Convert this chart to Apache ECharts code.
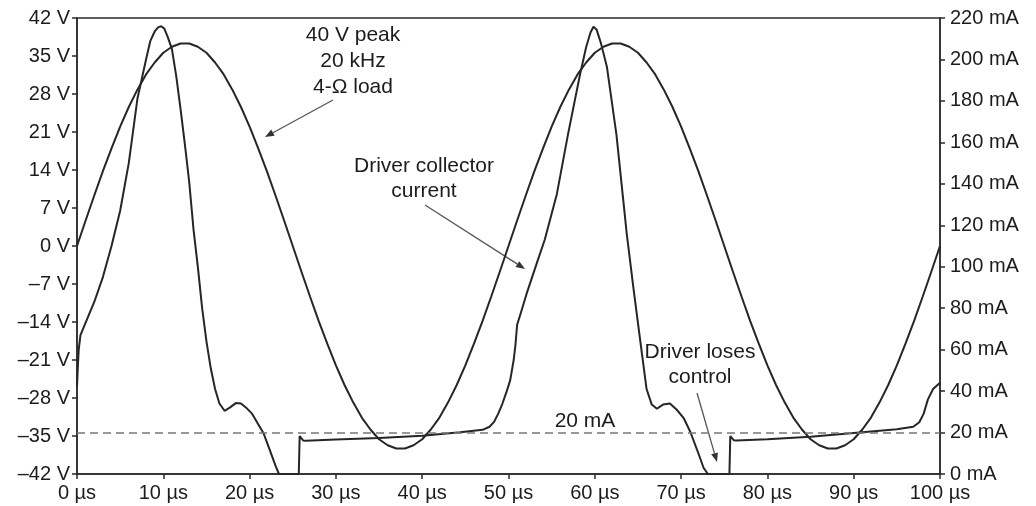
<!DOCTYPE html>
<html>
<head>
<meta charset="utf-8">
<script src="https://cdn.jsdelivr.net/npm/echarts@6/dist/echarts.min.js"></script>
<style>
  html, body { margin: 0; padding: 0; background: #fff; }
  #chart { width: 1036px; height: 506px; }
</style>
</head>
<body>
<div id="chart"></div>
<script>
// output voltage, one sample per microsecond (0..100 us)
const voltStepUs = 1;
const voltage = [
  0, 4.7, 9.3, 13.8, 18.0, 22.0, 25.6, 28.8, 31.6, 33.8,
  35.6, 36.7, 37.3, 37.3, 36.7, 35.6, 33.8, 31.6, 28.8, 25.6,
  22.0, 18.0, 13.8, 9.3, 4.7, 0, -4.7, -9.3, -13.8, -18.0,
  -22.0, -25.6, -28.8, -31.6, -33.8, -35.6, -36.7, -37.3, -37.3, -36.7,
  -35.6, -33.8, -31.6, -28.8, -25.6, -22.0, -18.0, -13.8, -9.3, -4.7,
  0, 4.7, 9.3, 13.8, 18.0, 22.0, 25.6, 28.8, 31.6, 33.8,
  35.6, 36.7, 37.3, 37.3, 36.7, 35.6, 33.8, 31.6, 28.8, 25.6,
  22.0, 18.0, 13.8, 9.3, 4.7, 0, -4.7, -9.3, -13.8, -18.0,
  -22.0, -25.6, -28.8, -31.6, -33.8, -35.6, -36.7, -37.3, -37.3, -36.7,
  -35.6, -33.8, -31.6, -28.8, -25.6, -22.0, -18.0, -13.8, -9.3, -4.7,
  0
];

// driver collector current (mA) against time (us)
const currentTime = [
  0, 0.1, 0.2, 0.4, 0.7, 1, 2, 3, 4, 5,
  6, 7, 8, 8.5, 9, 9.4, 9.75, 10.1, 10.5, 11,
  11.5, 12, 12.5, 13, 13.5, 14, 14.5, 15, 15.5, 16,
  16.5, 17.1, 17.7, 18.4, 19, 19.6, 20.3, 21, 21.6, 22.3,
  23, 23.4, 25.7, 25.8, 26.2, 26.5, 30, 35, 40, 44.4,
  47, 47.8, 48.3, 48.8, 49.3, 49.8, 50.2, 50.6, 50.8, 51.0,
  51.3, 52.1, 53.3, 54.2, 55.6, 56.9, 58.3, 59, 59.5, 59.85,
  60.2, 60.7, 61.4, 62.5, 63.3, 63.7, 64.5, 65.4, 66.0, 66.6,
  67.2, 67.9, 68.7, 69.5, 70.3, 71.1, 72.0, 72.6, 73.1, 75.6,
  75.7, 76.1, 76.4, 80, 85, 90, 95, 96.9, 97.6, 98.1,
  98.6, 99.2, 100
];
const currentMA = [
  42, 52, 60, 67, 70, 73, 83, 95, 110, 127,
  150, 181, 200, 209, 213.5, 215.5, 216, 215, 211, 205,
  192, 176, 159, 141, 118, 100, 80, 64, 51, 41,
  34, 30.5, 32, 34.2, 34, 32, 29, 24, 19.8, 12,
  4, 0, 0, 18.3, 16.2, 16.0, 16.6, 17.4, 18.5, 20.1,
  21.3, 22.8, 25, 29, 34, 40, 45.3, 55, 62, 72,
  76, 87, 102, 113, 135, 164, 193, 206, 213, 215.8,
  214.5, 208, 196.5, 164, 132, 116, 89, 60, 41, 33.5,
  31.5, 33.5, 34, 31, 27, 20, 10, 3, 0, 0,
  18.3, 16.3, 16.2, 16.8, 18.0, 19.8, 21.6, 22.8, 25, 29,
  36, 41, 44
];

const thresholdMA = 20;

const chart = echarts.init(document.getElementById('chart'));

const FONT = '"Liberation Sans", Arial, sans-serif';
const ink = '#1c1c1c';

function arrow(x1, y1, x2, y2) {
  const dx = x2 - x1, dy = y2 - y1;
  const len = Math.hypot(dx, dy);
  const ux = dx / len, uy = dy / len;
  const bx = x2 - 9 * ux, by = y2 - 9 * uy;
  return [
    {type: 'line', shape: {x1: x1, y1: y1, x2: bx, y2: by}, style: {stroke: '#555', lineWidth: 1.3}},
    {type: 'polygon', shape: {points: [[x2, y2], [bx - 3.5 * uy, by + 3.5 * ux], [bx + 3.5 * uy, by - 3.5 * ux]]}, style: {fill: '#333'}}
  ];
}

function label(text, x, y) {
  return {
    type: 'text', x: x, y: y,
    style: {text: text, font: '21px ' + FONT, fill: ink, align: 'center', verticalAlign: 'middle'}
  };
}

const axisLabelStyle = {color: ink, fontSize: 20, fontFamily: FONT};

chart.setOption({
  animation: false,
  backgroundColor: '#fff',
  grid: {
    left: 77, right: 96, top: 18, bottom: 32,
    show: true, borderColor: '#2a2a2a', borderWidth: 1.5
  },
  xAxis: {
    type: 'value', min: 0, max: 100, interval: 10,
    axisLine: {show: true, onZero: false, lineStyle: {color: '#2a2a2a', width: 1.5}},
    axisTick: {show: true, length: 5, lineStyle: {color: '#2a2a2a', width: 1.5}},
    splitLine: {show: false},
    axisLabel: Object.assign({margin: 9, formatter: (v) => v + ' µs'}, axisLabelStyle)
  },
  yAxis: [
    {
      type: 'value', min: -42, max: 42, interval: 7, position: 'left',
      axisLine: {show: true, onZero: false, lineStyle: {color: '#2a2a2a', width: 1.5}},
      axisTick: {show: true, length: 5, lineStyle: {color: '#2a2a2a', width: 1.5}},
      splitLine: {show: false},
      axisLabel: Object.assign({margin: 7, formatter: (v) => (v < 0 ? '–' + Math.abs(v) : v) + ' V'}, axisLabelStyle)
    },
    {
      type: 'value', min: 0, max: 220, interval: 20, position: 'right',
      axisLine: {show: true, onZero: false, lineStyle: {color: '#2a2a2a', width: 1.5}},
      axisTick: {show: true, length: 5, lineStyle: {color: '#2a2a2a', width: 1.5}},
      splitLine: {show: false},
      axisLabel: Object.assign({margin: 10, formatter: (v) => v + ' mA'}, axisLabelStyle)
    }
  ],
  series: [
    {
      name: 'Output voltage',
      type: 'line',
      yAxisIndex: 0,
      showSymbol: false,
      symbol: 'none',
      lineStyle: {color: '#262626', width: 2},
      data: voltage.map((v, i) => [i * voltStepUs, v])
    },
    {
      name: 'Driver collector current',
      type: 'line',
      yAxisIndex: 1,
      showSymbol: false,
      symbol: 'none',
      lineStyle: {color: '#262626', width: 2},
      data: currentTime.map((t, i) => [t, currentMA[i]]),
      markLine: {
        silent: true,
        symbol: 'none',
        label: {show: false},
        lineStyle: {color: '#777', width: 1.5, type: [8, 5]},
        data: [{yAxis: thresholdMA}]
      }
    }
  ],
  graphic: [
    label('40 V peak', 353, 35),
    label('20 kHz', 353, 61),
    label('4-Ω load', 353, 87),
    ...arrow(333, 100, 265, 137),
    label('Driver collector', 424, 166),
    label('current', 424, 191),
    ...arrow(425, 205, 525, 269),
    label('Driver loses', 700, 352),
    label('control', 700, 377),
    ...arrow(697, 393, 717, 462),
    label('20 mA', 585, 421)
  ]
});
</script>
</body>
</html>
